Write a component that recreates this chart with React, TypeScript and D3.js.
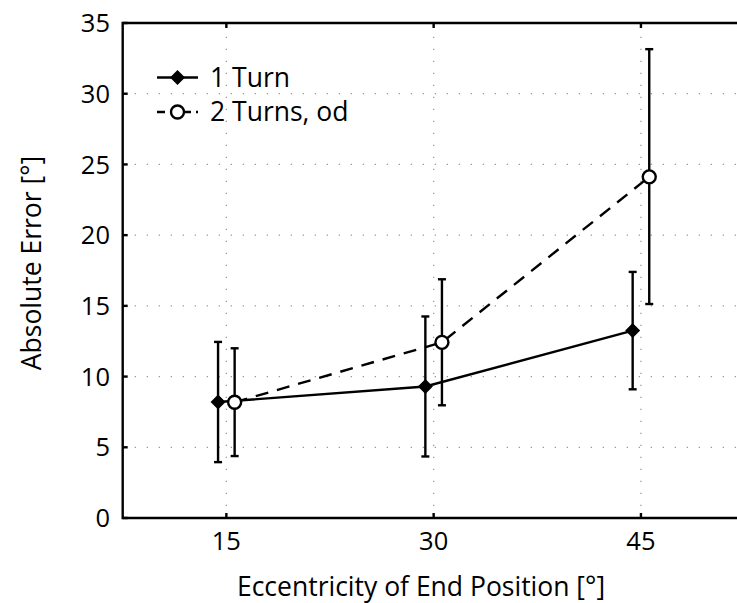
import React from "react";
import * as d3 from "d3";

const eccentricities = [15, 30, 45];
const oneTurnMean = [8.2, 9.3, 13.25];
const oneTurnLow = [3.95, 4.35, 9.1];
const oneTurnHigh = [12.45, 14.25, 17.4];
const twoTurnMean = [8.18, 12.42, 24.12];
const twoTurnLow = [4.38, 7.97, 15.13];
const twoTurnHigh = [12.0, 16.88, 33.15];
const xTicks = [15, 30, 45];
const yTicks = [0, 5, 10, 15, 20, 25, 30, 35];
const seriesNames = ["1 Turn", "2 Turns, od"];

const W = 737, H = 603;
const left = 122.7, top = 23, bottom = 518;
const font = "'Open Sans', 'Liberation Sans', sans-serif";

export default function App() {
  const x = d3.scaleLinear().domain([7.5, 52.5]).range([left, left + 45 * 13.82]);
  const y = d3.scaleLinear().domain([0, 35]).range([bottom, top]);
  const off = 0.6;
  const right = W + 5;

  const line = d3.line<[number, number]>().x(d => x(d[0])).y(d => y(d[1]));
  const s1: [number, number][] = eccentricities.map((e, i) => [e - off, oneTurnMean[i]]);
  const s2: [number, number][] = eccentricities.map((e, i) => [e + off, twoTurnMean[i]]);

  const errBar = (cx: number, lo: number, hi: number, key: string) => (
    <g key={key} stroke="#000" strokeWidth={2.4}>
      <line x1={cx} x2={cx} y1={y(lo)} y2={y(hi)} />
      <line x1={cx - 4} x2={cx + 4} y1={y(lo)} y2={y(lo)} />
      <line x1={cx - 4} x2={cx + 4} y1={y(hi)} y2={y(hi)} />
    </g>
  );
  const diamond = (cx: number, cy: number, key: string, s = 7.5) => (
    <path key={key} d={`M${cx},${cy - s}L${cx + s},${cy}L${cx},${cy + s}L${cx - s},${cy}Z`} fill="#000" />
  );
  const circle = (cx: number, cy: number, key: string) => (
    <circle key={key} cx={cx} cy={cy} r={6.5} fill="#fff" stroke="#000" strokeWidth={2.4} />
  );

  return (
    <svg width={W} height={H} style={{ position: "absolute", left: 0, top: 0, background: "#fff" }}>
      <rect width={W} height={H} fill="#fff" />
      {/* grid */}
      <g stroke="#999" strokeWidth={1.3} strokeDasharray="1.3,10.7">
        {yTicks.filter(t => t > 0 && t < 35).map(t => (
          <line key={"gy" + t} x1={left} x2={right} y1={y(t)} y2={y(t)} />
        ))}
        {xTicks.map(t => (
          <line key={"gx" + t} x1={x(t)} x2={x(t)} y1={bottom} y2={top} />
        ))}
      </g>
      {/* axes */}
      <g stroke="#000" strokeWidth={2.4} fill="none">
        <path d={`M${right},${top}H${left}V${bottom}H${right}`} />
        {xTicks.map(t => (
          <g key={"tx" + t}>
            <line x1={x(t)} x2={x(t)} y1={bottom} y2={bottom - 5} />
            <line x1={x(t)} x2={x(t)} y1={top} y2={top + 5} />
          </g>
        ))}
        {yTicks.map(t => (
          <line key={"ty" + t} x1={left} x2={left + 5} y1={y(t)} y2={y(t)} />
        ))}
      </g>
      {/* tick labels */}
      <g fontFamily={font} fontSize={25.5} fill="#000">
        {yTicks.map(t => (
          <text key={"ly" + t} x={110} y={y(t)} dy="0.36em" textAnchor="end">{t}</text>
        ))}
        {xTicks.map(t => (
          <text key={"lx" + t} x={x(t)} y={550} textAnchor="middle">{t}</text>
        ))}
        <text x={421} y={596} textAnchor="middle" fontSize={26.5}>Eccentricity of End Position [°]</text>
        <text transform="translate(41,263) rotate(-90)" textAnchor="middle" fontSize={26.5}>Absolute Error [°]</text>
      </g>
      {/* lines */}
      <path d={line(s1) || ""} fill="none" stroke="#000" strokeWidth={2.4} />
      <path d={line(s2) || ""} fill="none" stroke="#000" strokeWidth={2.4} strokeDasharray="13,9" />
      {eccentricities.map((e, i) => errBar(x(e - off), oneTurnLow[i], oneTurnHigh[i], "e1" + i))}
      {eccentricities.map((e, i) => errBar(x(e + off), twoTurnLow[i], twoTurnHigh[i], "e2" + i))}
      {s1.map((d, i) => diamond(x(d[0]), y(d[1]), "d" + i))}
      {s2.map((d, i) => circle(x(d[0]), y(d[1]), "c" + i))}
      {/* legend */}
      <g>
        <line x1={157} x2={198} y1={77.5} y2={77.5} stroke="#000" strokeWidth={2.4} />
        {diamond(177.5, 77.5, "ld")}
        <line x1={157} x2={198} y1={112} y2={112} stroke="#000" strokeWidth={2.4} strokeDasharray="8,5" />
        {circle(177.5, 112, "lc")}
        <text x={210} y={77} dy="0.36em" fontFamily={font} fontSize={26.5} fill="#000">{seriesNames[0]}</text>
        <text x={210} y={111.5} dy="0.36em" fontFamily={font} fontSize={26.5} fill="#000">{seriesNames[1]}</text>
      </g>
    </svg>
  );
}
